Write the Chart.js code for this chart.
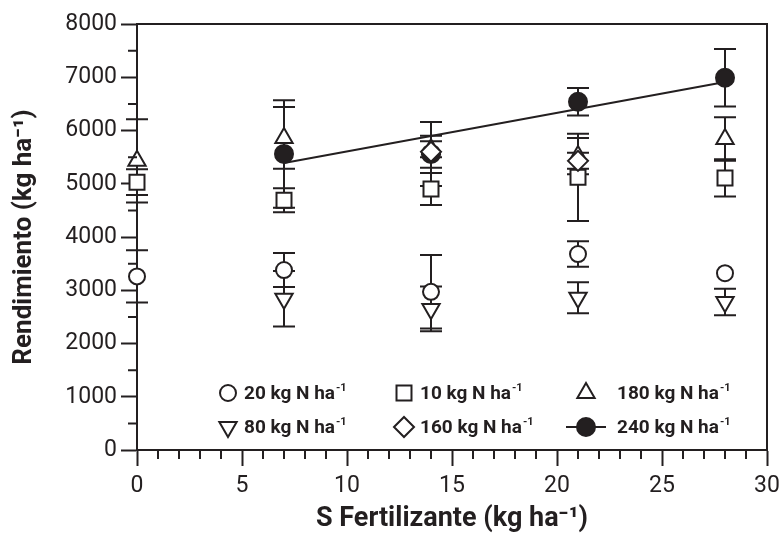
<!DOCTYPE html>
<html>
<head>
<meta charset="utf-8">
<script src="https://cdn.jsdelivr.net/npm/chart.js"></script>
<style>
  html, body { margin: 0; padding: 0; background: #fff; }
  #wrap { width: 780px; height: 535px; }
</style>
</head>
<body>
<div id="wrap"><canvas id="chart"></canvas></div>
<script>
'use strict';

// S rates (kg ha-1)
const sRates = [0, 7, 14, 21, 28];

// yield means and error bars, by N rate
const n20 = [3260, 3380, 2970, 3680, 3320];
const n20Err = [490, 320, 690, 240, null];
const n10 = [5030, 4690, 4900, 5120, 5110];
const n10Err = [240, 225, 300, 820, 350];
const n180 = [5430, 5860, 5650, 5520, 5840];
const n180Err = [780, 580, 150, 340, 410];
const n80 = [null, 2840, 2650, 2860, 2780];
const n80Err = [null, 520, 420, 290, 250];
const n160 = [null, null, 5600, 5430, null];
const n160Err = [null, null, 300, 150, null];
const n240 = [null, 5560, 5560, 6540, 6990];
const n240Err = [null, 1010, 600, 260, 540];

// fitted line for 240 kg N
const fitX = [7, 28];
const fitY = [5390, 6910];

const ink = '#231f20';
const toPts = (ys) => sRates.map((x, i) => ({ x, y: ys[i] }));

// error bars drawn under the markers
const errorBars = {
    id: 'errorBars',
    beforeDatasetsDraw(chart) {
        const ctx = chart.ctx;
        const xs = chart.scales.x, ys = chart.scales.y;
        ctx.save();
        ctx.strokeStyle = ink;
        ctx.lineWidth = 2;
        chart.data.datasets.forEach(ds => {
            if (!ds.err) return;
            ds.data.forEach((p, i) => {
                if (p.y == null || ds.err[i] == null) return;
                const px = xs.getPixelForValue(p.x);
                const top = ys.getPixelForValue(p.y + ds.err[i]);
                const bot = ys.getPixelForValue(p.y - ds.err[i]);
                ctx.beginPath();
                ctx.moveTo(px, top); ctx.lineTo(px, bot);
                ctx.moveTo(px - 11, top); ctx.lineTo(px + 11, top);
                ctx.moveTo(px - 11, bot); ctx.lineTo(px + 11, bot);
                ctx.stroke();
            });
        });
        ctx.restore();
    }
};

// frame, minor ticks and the in-plot legend
const frame = {
    id: 'frame',
    afterDraw(chart) {
        const ctx = chart.ctx;
        const a = chart.chartArea;
        const xs = chart.scales.x, ys = chart.scales.y;
        ctx.save();
        ctx.strokeStyle = ink;
        ctx.lineWidth = 2;
        ctx.beginPath();
        ctx.moveTo(a.left, a.top); ctx.lineTo(a.right, a.top); ctx.lineTo(a.right, a.bottom);
        // minor ticks
        for (let v = 0; v <= 30; v++) {
            if (v % 5 === 0) continue;
            const px = xs.getPixelForValue(v);
            ctx.moveTo(px, a.bottom); ctx.lineTo(px, a.bottom + 9);
        }
        for (let v = 500; v < 8000; v += 1000) {
            const py = ys.getPixelForValue(v);
            ctx.moveTo(a.left - 9, py); ctx.lineTo(a.left, py);
        }
        ctx.stroke();

        // legend
        const items = chart.data.datasets.filter(d => d.legendPos);
        items.forEach(d => {
            const mx = a.left + d.legendPos[0];
            const my = a.top + d.legendPos[1];
            if (d.legendLine) {
                ctx.beginPath();
                ctx.moveTo(mx - 20, my); ctx.lineTo(mx + 20, my);
                ctx.stroke();
            }
            ctx.fillStyle = d.pointBackgroundColor;
            ctx.strokeStyle = ink;
            ctx.lineWidth = 2;
            Chart.helpers.drawPoint(ctx, {
                pointStyle: d.pointStyle,
                rotation: d.pointRotation || 0,
                radius: d.pointRadius,
                borderWidth: 2
            }, mx, my);
            const tx = mx + (d.legendPos[0] > 400 ? 31 : 16);
            ctx.fillStyle = ink;
            ctx.textBaseline = 'middle';
            ctx.textAlign = 'left';
            ctx.font = 'bold 19px Roboto';
            const main = d.label + ' kg N ha';
            ctx.fillText(main, tx, my + 1);
            const w = ctx.measureText(main).width;
            ctx.font = 'bold 11px Roboto';
            ctx.fillText('-1', tx + w + 1, my - 5);
        });
        ctx.restore();
    }
};

const marker = (style, r, fill) => ({
    showLine: false,
    clip: false,
    pointStyle: style,
    pointRadius: r,
    pointHoverRadius: r,
    pointBorderWidth: 2,
    pointBorderColor: ink,
    pointBackgroundColor: fill || '#ffffff',
    borderColor: ink
});

new Chart(document.getElementById('chart').getContext('2d'), {
    type: 'scatter',
    data: {
        datasets: [
            Object.assign(marker('rectRot', 10), { label: '160', data: toPts(n160), err: n160Err, legendPos: [267, 403] }),
            Object.assign(marker('triangle', 10), { label: '180', data: toPts(n180), err: n180Err, legendPos: [449, 369] }),
            Object.assign(marker('rect', 10.6), { label: '10', data: toPts(n10), err: n10Err, legendPos: [267, 369] }),
            Object.assign(marker('circle', 8), { label: '20', data: toPts(n20), err: n20Err, legendPos: [91, 369] }),
            Object.assign(marker('triangle', 10), { label: '80', data: toPts(n80), err: n80Err, pointRotation: 180, legendPos: [91, 403] }),
            Object.assign(marker('circle', 9, ink), { label: '240', data: toPts(n240), err: n240Err, legendPos: [449, 403], legendLine: true }),
            {
                label: 'fit',
                data: fitX.map((x, i) => ({ x, y: fitY[i] })),
                showLine: true,
                borderColor: ink,
                borderWidth: 2,
                pointRadius: 0
            }
        ]
    },
    options: {
        responsive: true,
        maintainAspectRatio: false,
        animation: false,
        layout: { padding: { top: 24, right: 13, left: 0, bottom: 0 } },
        plugins: { legend: { display: false }, tooltip: { enabled: false } },
        scales: {
            x: {
                type: 'linear', min: 0, max: 30,
                ticks: { stepSize: 5, color: ink, font: { family: 'Roboto', size: 23 }, padding: 6, maxRotation: 0 },
                grid: { drawOnChartArea: false, tickLength: 16, tickWidth: 2, tickColor: ink },
                border: { width: 2, color: ink },
                title: {
                    display: true, text: 'S Fertilizante (kg ha⁻¹)', color: ink,
                    font: { family: 'Roboto', size: 27, weight: 'bold' }, padding: { top: 0, bottom: 0 }
                },
                afterFit(s) { s.height = 85; s.paddingRight = 0; s.paddingLeft = 0; }
            },
            y: {
                min: 0, max: 8000,
                ticks: {
                    stepSize: 1000, color: ink, font: { family: 'Roboto', size: 23 }, padding: 4,
                    callback: v => String(v)
                },
                grid: { drawOnChartArea: false, tickLength: 16, tickWidth: 2, tickColor: ink },
                border: { width: 2, color: ink },
                title: {
                    display: true, text: 'Rendimiento (kg ha⁻¹)', color: ink,
                    font: { family: 'Roboto', size: 26, weight: 'bold' }, padding: { top: 9, bottom: 0 }
                },
                afterFit(s) { s.width = 137; }
            }
        }
    },
    plugins: [errorBars, frame]
});
</script>
</body>
</html>
